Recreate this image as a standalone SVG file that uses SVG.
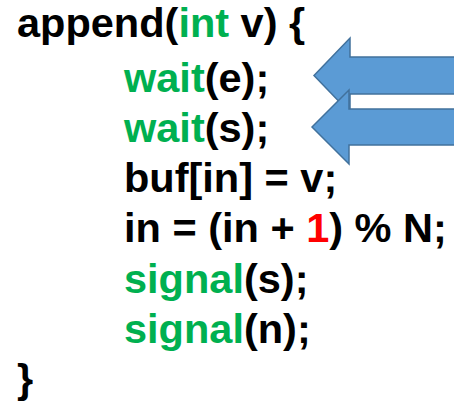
<svg xmlns="http://www.w3.org/2000/svg" width="454" height="402" viewBox="0 0 454 402">
<style>
text{font-family:"Liberation Sans",Arial,sans-serif;font-weight:bold;font-size:41.5px;fill:#000}
.g{fill:#00b050}
.r{fill:#ff0000}
.arr{fill:#5b9bd5;stroke:#41719c;stroke-width:1.5;stroke-linejoin:miter}
</style>
<rect width="454" height="402" fill="#fff"/>
<g id="code">
<text x="17" y="37">append(<tspan class="g">int</tspan> v) {</text>
<text x="124" y="92"><tspan class="g">wait</tspan>(e);</text>
<text x="124" y="142"><tspan class="g">wait</tspan>(s);</text>
<text x="124" y="192">buf[in] = v;</text>
<text x="124" y="242">in = (in + <tspan class="r">1</tspan>) % N;</text>
<text x="124" y="293"><tspan class="g">signal</tspan>(s);</text>
<text x="124" y="343"><tspan class="g">signal</tspan>(n);</text>
<text x="17" y="393">}</text>
</g>
<g id="arrows">
<path id="arrow1" class="arr" d="M314,75.5 L350,38 L350,57 L456,57 L456,94 L350,94 L350,113 Z"/>
<path id="arrow2" class="arr" d="M312,127 L349,90 L349,109 L456,109 L456,145 L349,145 L349,164 Z"/>
</g>
</svg>
